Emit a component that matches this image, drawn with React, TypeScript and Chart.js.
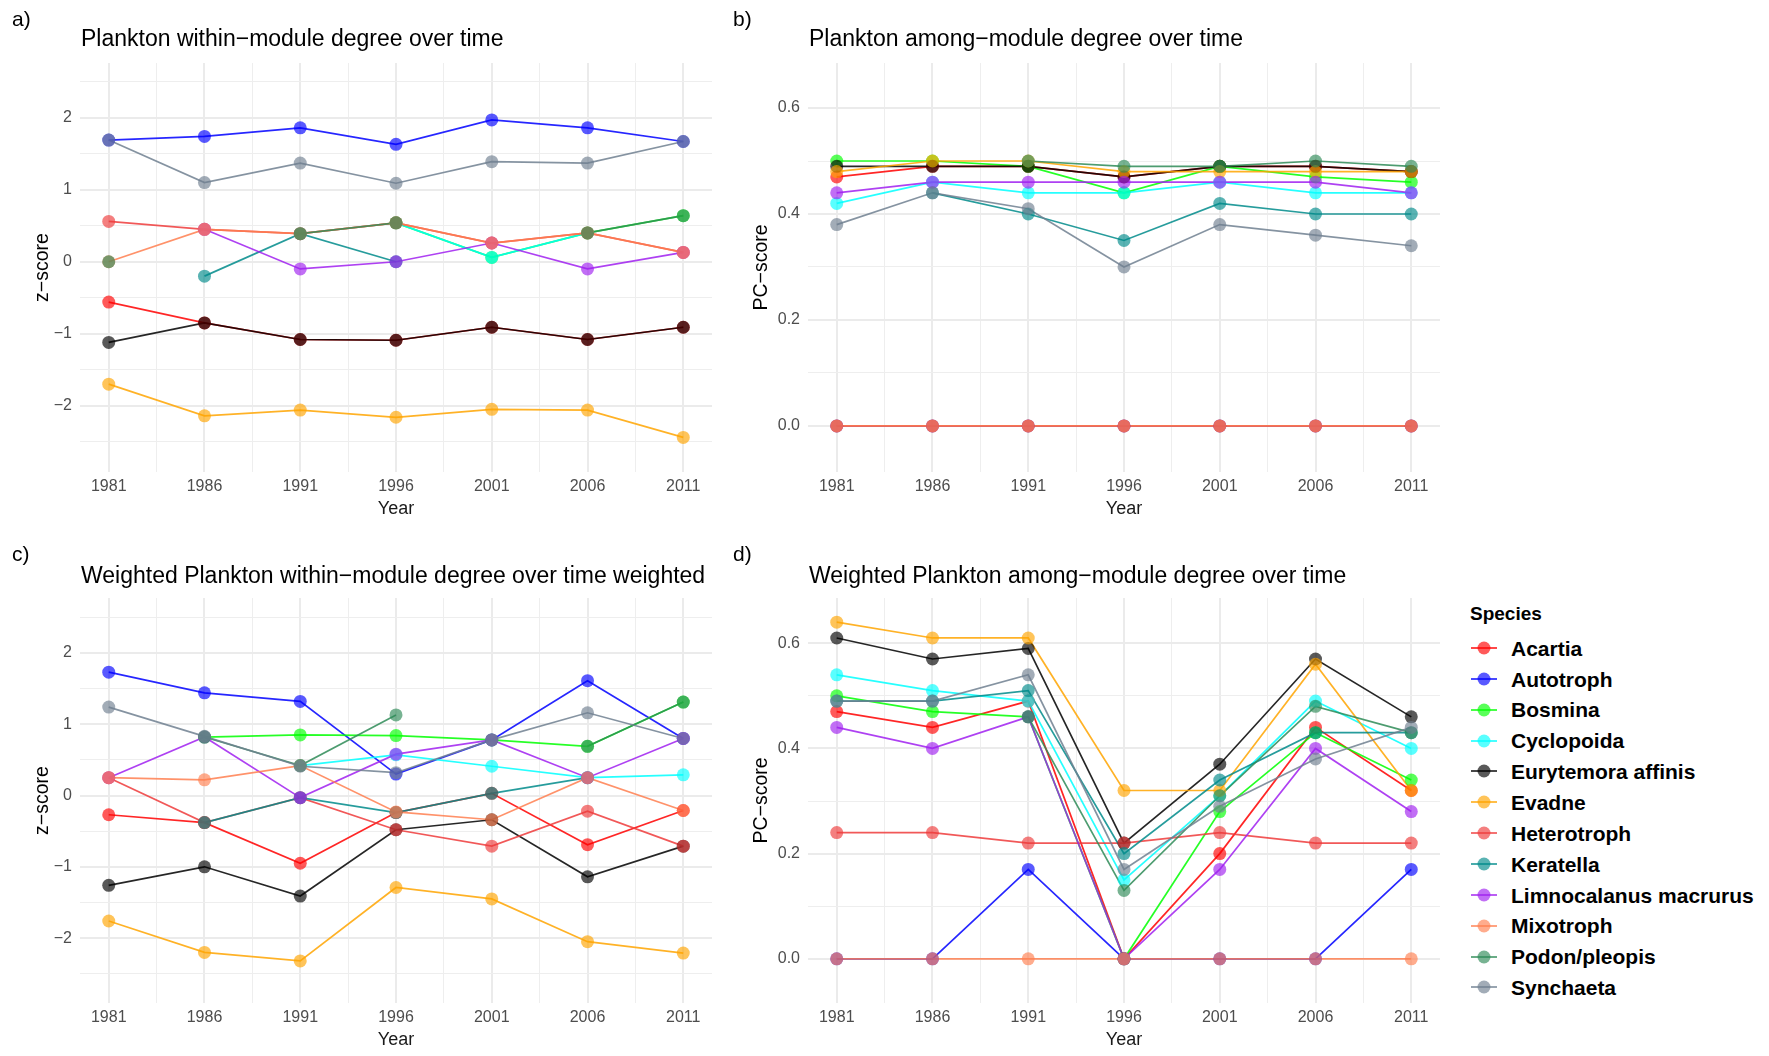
import React, { useEffect, useRef } from 'react';
import { Chart, registerables } from 'chart.js';

Chart.register(...registerables);

// ---------- categories ----------
const YEARS = [1981, 1986, 1991, 1996, 2001, 2006, 2011];
const SPECIES = [
  'Acartia',
  'Autotroph',
  'Bosmina',
  'Cyclopoida',
  'Eurytemora affinis',
  'Evadne',
  'Heterotroph',
  'Keratella',
  'Limnocalanus macrurus',
  'Mixotroph',
  'Podon/pleopis',
  'Synchaeta',
];
const SPECIES_COLORS = [
  '#FF0000',
  '#0000FF',
  '#00FF00',
  '#00FFFF',
  '#000000',
  '#FFA500',
  '#EE3B3B',
  '#008B8B',
  '#A020F0',
  '#FF7F50',
  '#2E8B57',
  '#708090',
];

// ---------- tick values ----------
const X_TICK_VALUES = [1981, 1983.5, 1986, 1988.5, 1991, 1993.5, 1996, 1998.5, 2001, 2003.5, 2006, 2008.5, 2011];
const Z_TICK_VALUES = [-2.5, -2, -1.5, -1, -0.5, 0, 0.5, 1, 1.5, 2, 2.5];
const PC_TICK_VALUES = [0, 0.1, 0.2, 0.3, 0.4, 0.5, 0.6];

// ---------- series (rows follow SPECIES order, columns follow YEARS) ----------
// a) within-module degree (z-score)
const WITHIN_Z: (number | null)[][] = [
  [-0.56, -0.85, -1.08, -1.09, -0.91, -1.08, -0.91],
  [1.69, 1.74, 1.86, 1.63, 1.97, 1.86, 1.67],
  [null, null, null, 0.54, 0.06, 0.4, 0.64],
  [null, null, null, 0.54, 0.06, 0.4, null],
  [-1.12, -0.85, -1.08, -1.09, -0.91, -1.08, -0.91],
  [-1.7, -2.14, -2.06, -2.16, -2.05, -2.06, -2.44],
  [0.56, 0.45, 0.39, 0.54, 0.26, 0.4, 0.13],
  [null, -0.2, 0.39, 0.0, null, null, null],
  [null, 0.45, -0.1, 0.0, 0.26, -0.1, 0.13],
  [0.0, 0.45, 0.39, 0.54, 0.26, 0.4, 0.13],
  [0.0, null, 0.39, 0.54, null, 0.4, 0.64],
  [1.69, 1.1, 1.37, 1.09, 1.39, 1.37, 1.67],
];

// b) among-module degree (PC-score)
const AMONG_PC: (number | null)[][] = [
  [0.47, 0.49, 0.49, 0.47, 0.49, 0.49, 0.48],
  [0, 0, 0, 0, 0, 0, 0],
  [0.5, 0.5, 0.49, 0.44, 0.49, 0.47, 0.46],
  [0.42, 0.46, 0.44, 0.44, 0.46, 0.44, 0.44],
  [0.49, 0.49, 0.49, 0.47, 0.49, 0.49, 0.48],
  [0.48, 0.5, 0.5, 0.48, 0.48, 0.48, 0.48],
  [0, 0, 0, 0, 0, 0, 0],
  [null, 0.44, 0.4, 0.35, 0.42, 0.4, 0.4],
  [0.44, 0.46, 0.46, 0.46, 0.46, 0.46, 0.44],
  [0, 0, 0, 0, 0, 0, 0],
  [null, null, 0.5, 0.49, 0.49, 0.5, 0.49],
  [0.38, 0.44, 0.41, 0.3, 0.38, 0.36, 0.34],
];

// c) weighted within-module degree (z-score)
const WEIGHTED_WITHIN_Z: (number | null)[][] = [
  [-0.27, -0.38, -0.95, -0.24, 0.03, -0.69, -0.21],
  [1.73, 1.44, 1.32, 0.3, 0.78, 1.61, 0.8],
  [null, 0.82, 0.85, 0.84, 0.78, 0.69, 1.31],
  [null, null, 0.42, 0.57, 0.41, 0.25, 0.29],
  [-1.26, -1.0, -1.41, -0.48, -0.34, -1.14, -0.71],
  [-1.76, -2.2, -2.32, -1.29, -1.45, -2.05, -2.21],
  [0.25, -0.38, -0.03, -0.48, -0.71, -0.22, -0.71],
  [null, -0.38, -0.03, -0.24, 0.03, 0.25, null],
  [0.25, 0.82, -0.03, 0.58, 0.78, 0.25, 0.8],
  [0.25, 0.22, 0.42, -0.23, -0.34, 0.25, -0.21],
  [null, 0.82, 0.42, 1.13, null, 0.69, 1.31],
  [1.24, 0.83, 0.41, 0.32, 0.78, 1.16, 0.8],
];

// d) weighted among-module degree (PC-score)
const WEIGHTED_AMONG_PC: (number | null)[][] = [
  [0.47, 0.44, 0.49, 0.0, 0.2, 0.44, 0.32],
  [0, 0, 0.17, 0, 0, 0, 0.17],
  [0.5, 0.47, 0.46, 0.0, 0.28, 0.43, 0.34],
  [0.54, 0.51, 0.49, 0.15, 0.31, 0.49, 0.4],
  [0.61, 0.57, 0.59, 0.22, 0.37, 0.57, 0.46],
  [0.64, 0.61, 0.61, 0.32, 0.32, 0.56, 0.32],
  [0.24, 0.24, 0.22, 0.22, 0.24, 0.22, 0.22],
  [0.49, 0.49, 0.51, 0.2, 0.34, 0.43, 0.43],
  [0.44, 0.4, 0.46, 0.0, 0.17, 0.4, 0.28],
  [0, 0, 0, 0, 0, 0, 0],
  [null, null, 0.46, 0.13, 0.31, 0.48, 0.43],
  [0.49, 0.49, 0.54, 0.17, 0.29, 0.38, 0.44],
];

// ---------- styling / layout ----------
const FONT = "'Liberation Sans', Arial, Helvetica, sans-serif";

function rgba(hex: string, a: number) {
  const r = parseInt(hex.slice(1, 3), 16);
  const g = parseInt(hex.slice(3, 5), 16);
  const b = parseInt(hex.slice(5, 7), 16);
  return `rgba(${r},${g},${b},${a})`;
}

type PanelCfg = {
  key: string;
  left: number;
  top: number;
  w: number;
  h: number;
  area: { l: number; t: number; r: number; b: number };
  values: (number | null)[][];
  kind: 'z' | 'pc';
  yMin: number;
  yMax: number;
  yTitle: string;
  yTitlePad: number;
  xTitlePad: number;
};

const PANELS: PanelCfg[] = [
  { key: 'a', left: 0, top: 0, w: 720, h: 528, area: { l: 80, t: 63, r: 712, b: 472 }, values: WITHIN_Z, kind: 'z', yMin: -2.92, yMax: 2.76, yTitle: 'z−score', yTitlePad: 31.3, xTitlePad: 8.2 },
  { key: 'b', left: 728, top: 0, w: 720, h: 528, area: { l: 80, t: 63, r: 712, b: 472 }, values: AMONG_PC, kind: 'pc', yMin: -0.087, yMax: 0.685, yTitle: 'PC−score', yTitlePad: 21.8, xTitlePad: 8.2 },
  { key: 'c', left: 0, top: 530, w: 720, h: 526, area: { l: 80, t: 68, r: 712, b: 473 }, values: WEIGHTED_WITHIN_Z, kind: 'z', yMin: -2.91, yMax: 2.77, yTitle: 'z−score', yTitlePad: 31.3, xTitlePad: 5.2 },
  { key: 'd', left: 728, top: 530, w: 720, h: 526, area: { l: 80, t: 68, r: 712, b: 473 }, values: WEIGHTED_AMONG_PC, kind: 'pc', yMin: -0.084, yMax: 0.686, yTitle: 'PC−score', yTitlePad: 21.8, xTitlePad: 5.2 },
];

const GRID_MAJOR = '#EBEBEB';
const GRID_MINOR = '#EEEEEE';
const TICK_FONT_SIZE = 16;

function Panel({ p }: { p: PanelCfg }) {
  const ref = useRef<HTMLCanvasElement>(null);
  useEffect(() => {
    const canvas = ref.current;
    if (!canvas) return;

    const toData = (row: (number | null)[]) => YEARS.map((yr, j) => ({ x: yr, y: row[j] }));

    const lineSets = SPECIES.map((name, i) => ({
      type: 'line' as const,
      label: name,
      data: toData(p.values[i]),
      borderColor: rgba(SPECIES_COLORS[i], 0.85),
      borderWidth: 1.7,
      pointRadius: 0,
      pointHoverRadius: 0,
      fill: false,
      tension: 0,
      spanGaps: false,
    }));
    const pointSets = SPECIES.map((name, i) => ({
      type: 'line' as const,
      label: name + ' points',
      data: toData(p.values[i]),
      showLine: false,
      borderColor: 'rgba(0,0,0,0)',
      pointRadius: 6.5,
      pointHoverRadius: 6.5,
      pointBorderWidth: 0,
      pointBorderColor: 'rgba(0,0,0,0)',
      pointBackgroundColor: rgba(SPECIES_COLORS[i], 0.65),
      fill: false,
    }));
    // drawing order: all lines first (species order), then all points; Chart.js paints index 0 last
    const datasets = [...lineSets, ...pointSets].reverse();

    const isMajorX = (v: number) => Number.isInteger((v - 1981) / 5);
    const yTicks = p.kind === 'z' ? Z_TICK_VALUES : PC_TICK_VALUES;
    const isMajorY = (v: number) =>
      p.kind === 'z' ? Number.isInteger(v) : Math.abs(Math.round(v * 10) % 2) === 0;
    const fmtY = (v: number) => {
      if (p.kind === 'z') return v < 0 ? '−' + Math.abs(v) : String(v);
      return v.toFixed(1);
    };

    const chart = new Chart(canvas, {
      type: 'line',
      data: { datasets: datasets as any },
      options: {
        responsive: false,
        maintainAspectRatio: false,
        animation: false,
        events: [],
        layout: { padding: { left: 0, top: p.area.t, right: p.w - p.area.r, bottom: 0 } },
        plugins: {
          legend: { display: false },
          tooltip: { enabled: false },
          title: { display: false },
        },
        scales: {
          x: {
            type: 'linear',
            min: 1979.5,
            max: 2012.5,
            afterBuildTicks: (s: any) => {
              s.ticks = X_TICK_VALUES.map((v) => ({ value: v }));
            },
            afterFit: (s: any) => {
              s.height = p.h - p.area.b;
            },
            ticks: {
              autoSkip: false,
              maxRotation: 0,
              minRotation: 0,
              padding: 5.4,
              color: '#4D4D4D',
              font: { family: FONT, size: TICK_FONT_SIZE },
              callback: (v: any) => (isMajorX(Number(v)) ? String(v) : ''),
            },
            grid: {
              drawTicks: false,
              color: (ctx: any) => (ctx.tick && isMajorX(ctx.tick.value) ? GRID_MAJOR : GRID_MINOR),
              lineWidth: (ctx: any) => (ctx.tick && isMajorX(ctx.tick.value) ? 2 : 1),
            },
            border: { display: false },
            title: {
              display: true,
              text: 'Year',
              color: '#1A1A1A',
              font: { family: FONT, size: 18 },
              padding: { top: 0, bottom: p.xTitlePad },
            },
          },
          y: {
            type: 'linear',
            min: p.yMin,
            max: p.yMax,
            afterBuildTicks: (s: any) => {
              s.ticks = yTicks.map((v) => ({ value: v }));
            },
            afterFit: (s: any) => {
              s.width = p.area.l;
            },
            ticks: {
              autoSkip: false,
              padding: 8,
              color: '#4D4D4D',
              font: { family: FONT, size: TICK_FONT_SIZE },
              callback: (v: any) => (isMajorY(Number(v)) ? fmtY(Number(v)) : ''),
            },
            grid: {
              drawTicks: false,
              color: (ctx: any) => (ctx.tick && isMajorY(ctx.tick.value) ? GRID_MAJOR : GRID_MINOR),
              lineWidth: (ctx: any) => (ctx.tick && isMajorY(ctx.tick.value) ? 2 : 1),
            },
            border: { display: false },
            title: {
              display: true,
              text: p.yTitle,
              color: '#000000',
              font: { family: FONT, size: 19.5 },
              padding: { top: p.yTitlePad, bottom: 0 },
            },
          },
        },
      } as any,
    });
    return () => chart.destroy();
  }, [p]);

  return (
    <canvas
      ref={ref}
      width={p.w}
      height={p.h}
      style={{ position: 'absolute', left: p.left, top: p.top, width: p.w, height: p.h }}
    />
  );
}

const PANEL_LABELS = [
  { text: 'a)', left: 12, top: 8 },
  { text: 'b)', left: 733, top: 8 },
  { text: 'c)', left: 12, top: 543 },
  { text: 'd)', left: 733, top: 543 },
];

const PANEL_TITLES = [
  { text: 'Plankton within−module degree over time', left: 81, top: 27.2 },
  { text: 'Plankton among−module degree over time', left: 809, top: 27.2 },
  { text: 'Weighted Plankton within−module degree over time weighted', left: 81, top: 563.5 },
  { text: 'Weighted Plankton among−module degree over time', left: 809, top: 563.5 },
];

function Legend() {
  const x0 = 1470;
  const y0 = 648;
  const step = 30.85;
  return (
    <>
      <div
        style={{
          position: 'absolute',
          left: x0,
          top: 603.7,
          fontFamily: FONT,
          fontWeight: 'bold',
          fontSize: 19,
          lineHeight: '19px',
          color: '#000',
          whiteSpace: 'nowrap',
        }}
      >
        Species
      </div>
      {SPECIES.map((name, i) => {
        const cy = y0 + i * step;
        return (
          <React.Fragment key={name}>
            <svg
              width={30}
              height={16}
              style={{ position: 'absolute', left: x0, top: cy - 8 }}
            >
              <line x1={1} y1={8} x2={27} y2={8} stroke={rgba(SPECIES_COLORS[i], 0.85)} strokeWidth={1.7} />
              <circle cx={14} cy={8} r={6.5} fill={rgba(SPECIES_COLORS[i], 0.65)} />
            </svg>
            <div
              style={{
                position: 'absolute',
                left: 1511,
                top: cy - 10.3,
                fontFamily: FONT,
                fontWeight: 'bold',
                fontSize: 21,
                lineHeight: '21px',
                color: '#000',
                whiteSpace: 'nowrap',
              }}
            >
              {name}
            </div>
          </React.Fragment>
        );
      })}
    </>
  );
}

export default function App() {
  useEffect(() => {
    document.body.style.overflow = 'hidden';
  }, []);
  return (
    <div
      style={{
        position: 'absolute',
        left: 0,
        top: 0,
        width: 1769,
        height: 1056,
        background: '#FFFFFF',
        overflow: 'hidden',
        fontFamily: FONT,
      }}
    >
      {PANELS.map((p) => (
        <Panel key={p.key} p={p} />
      ))}
      {PANEL_LABELS.map((l) => (
        <div
          key={l.text}
          style={{
            position: 'absolute',
            left: l.left,
            top: l.top,
            fontFamily: FONT,
            fontSize: 21,
            lineHeight: '21px',
            color: '#000',
          }}
        >
          {l.text}
        </div>
      ))}
      {PANEL_TITLES.map((t) => (
        <div
          key={t.text}
          style={{
            position: 'absolute',
            left: t.left,
            top: t.top,
            fontFamily: FONT,
            fontSize: 23,
            lineHeight: '23px',
            color: '#000',
            whiteSpace: 'nowrap',
          }}
        >
          {t.text}
        </div>
      ))}
      <Legend />
    </div>
  );
}
